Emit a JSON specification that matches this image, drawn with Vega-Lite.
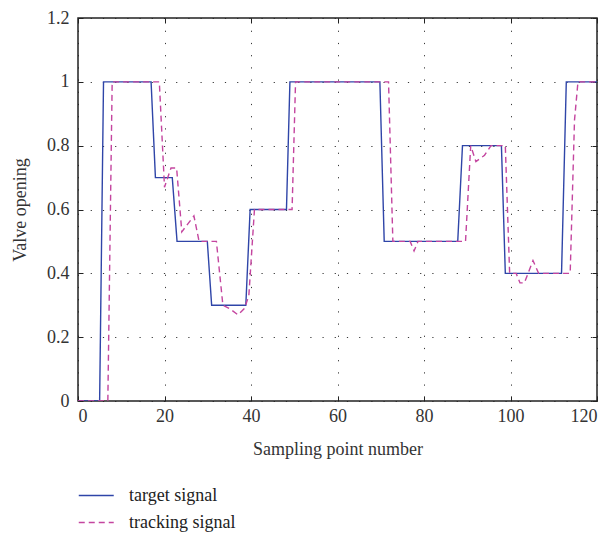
{
  "$schema": "https://vega.github.io/schema/vega-lite/v6.json",
  "width": 519,
  "height": 383,
  "autosize": {"type": "none"},
  "padding": {"left": 78, "top": 18, "right": 16, "bottom": 138},
  "background": "white",
  "config": {
    "font": "Liberation Serif",
    "view": {"stroke": "#222", "strokeWidth": 1.5},
    "axis": {
      "labelFont": "Liberation Serif",
      "titleFont": "Liberation Serif",
      "labelFontSize": 18,
      "titleFontSize": 18,
      "titleFontWeight": "normal",
      "labelColor": "#333",
      "titleColor": "#333",
      "domain": false,
      "tickColor": "#222",
      "tickSize": -5,
      "tickWidth": 1,
      "grid": true,
      "gridColor": "#222",
      "gridDash": [1.2, 11],
      "gridWidth": 1,
      "gridOpacity": 0.9
    },
    "legend": {
      "labelFont": "Liberation Serif",
      "labelFontSize": 18,
      "labelColor": "#222"
    }
  },
  "data": {
    "values": [
      {"series": "target signal", "x": 0, "y": 0},
      {"series": "target signal", "x": 5, "y": 0},
      {"series": "target signal", "x": 5.9, "y": 1},
      {"series": "target signal", "x": 16.9, "y": 1},
      {"series": "target signal", "x": 17.9, "y": 0.7},
      {"series": "target signal", "x": 21.8, "y": 0.7},
      {"series": "target signal", "x": 22.9, "y": 0.5},
      {"series": "target signal", "x": 29.9, "y": 0.5},
      {"series": "target signal", "x": 30.9, "y": 0.3},
      {"series": "target signal", "x": 38.8, "y": 0.3},
      {"series": "target signal", "x": 39.8, "y": 0.6},
      {"series": "target signal", "x": 48.2, "y": 0.6},
      {"series": "target signal", "x": 49, "y": 1},
      {"series": "target signal", "x": 69.8, "y": 1},
      {"series": "target signal", "x": 70.8, "y": 0.5},
      {"series": "target signal", "x": 87.8, "y": 0.5},
      {"series": "target signal", "x": 88.9, "y": 0.8},
      {"series": "target signal", "x": 97.9, "y": 0.8},
      {"series": "target signal", "x": 98.8, "y": 0.4},
      {"series": "target signal", "x": 111.8, "y": 0.4},
      {"series": "target signal", "x": 112.9, "y": 1},
      {"series": "target signal", "x": 120, "y": 1},
      {"series": "tracking signal", "x": 0, "y": 0},
      {"series": "tracking signal", "x": 6.9, "y": 0},
      {"series": "tracking signal", "x": 7.9, "y": 1},
      {"series": "tracking signal", "x": 18.8, "y": 1},
      {"series": "tracking signal", "x": 20, "y": 0.67},
      {"series": "tracking signal", "x": 21.5, "y": 0.73},
      {"series": "tracking signal", "x": 22.8, "y": 0.73},
      {"series": "tracking signal", "x": 24, "y": 0.53},
      {"series": "tracking signal", "x": 26.8, "y": 0.58},
      {"series": "tracking signal", "x": 28, "y": 0.5},
      {"series": "tracking signal", "x": 32, "y": 0.5},
      {"series": "tracking signal", "x": 33.5, "y": 0.3},
      {"series": "tracking signal", "x": 35, "y": 0.29},
      {"series": "tracking signal", "x": 37, "y": 0.27},
      {"series": "tracking signal", "x": 38.5, "y": 0.29},
      {"series": "tracking signal", "x": 39.5, "y": 0.33},
      {"series": "tracking signal", "x": 40.8, "y": 0.6},
      {"series": "tracking signal", "x": 49.5, "y": 0.6},
      {"series": "tracking signal", "x": 50.3, "y": 1},
      {"series": "tracking signal", "x": 71.8, "y": 1},
      {"series": "tracking signal", "x": 72.8, "y": 0.5},
      {"series": "tracking signal", "x": 76.8, "y": 0.5},
      {"series": "tracking signal", "x": 77.7, "y": 0.47},
      {"series": "tracking signal", "x": 78.6, "y": 0.5},
      {"series": "tracking signal", "x": 89.6, "y": 0.5},
      {"series": "tracking signal", "x": 90.8, "y": 0.8},
      {"series": "tracking signal", "x": 92, "y": 0.75},
      {"series": "tracking signal", "x": 94, "y": 0.77},
      {"series": "tracking signal", "x": 95.5, "y": 0.8},
      {"series": "tracking signal", "x": 98.8, "y": 0.8},
      {"series": "tracking signal", "x": 99.8, "y": 0.4},
      {"series": "tracking signal", "x": 101.3, "y": 0.4},
      {"series": "tracking signal", "x": 102.2, "y": 0.37},
      {"series": "tracking signal", "x": 103.2, "y": 0.37},
      {"series": "tracking signal", "x": 105.2, "y": 0.44},
      {"series": "tracking signal", "x": 106.5, "y": 0.4},
      {"series": "tracking signal", "x": 113.8, "y": 0.4},
      {"series": "tracking signal", "x": 114.8, "y": 0.88},
      {"series": "tracking signal", "x": 115.6, "y": 1},
      {"series": "tracking signal", "x": 120, "y": 1}
    ]
  },
  "layer": [
    {
      "mark": {"type": "line", "strokeWidth": 1.4, "clip": true},
      "encoding": {
        "x": {
          "field": "x", "type": "quantitative",
          "scale": {"domain": [0, 120], "nice": false},
          "axis": {"values": [0, 20, 40, 60, 80, 100, 120], "title": "Sampling point number", "labelPadding": 11, "titlePadding": 15}
        },
        "y": {
          "field": "y", "type": "quantitative",
          "scale": {"domain": [0, 1.2], "nice": false},
          "axis": {"values": [0, 0.2, 0.4, 0.6, 0.8, 1, 1.2], "format": "~g", "title": "Valve opening", "labelPadding": 14, "titlePadding": 17}
        },
        "color": {
          "field": "series", "type": "nominal",
          "scale": {"domain": ["target signal", "tracking signal"], "range": ["#2f45a8", "#c4459f"]},
          "legend": {
            "title": null, "orient": "none", "legendX": 0, "legendY": 468,
            "direction": "vertical", "symbolType": "M-1,0H3", "symbolSize": 306,
            "symbolStrokeWidth": 1.4, "labelOffset": 32, "rowPadding": 8
          }
        },
        "strokeDash": {
          "field": "series", "type": "nominal",
          "scale": {"domain": ["target signal", "tracking signal"], "range": [[1, 0], [6, 4]]},
          "legend": {
            "title": null, "orient": "none", "legendX": 0, "legendY": 468,
            "direction": "vertical", "symbolType": "M-1,0H3", "symbolSize": 306,
            "symbolStrokeWidth": 1.4, "labelOffset": 32, "rowPadding": 8
          }
        }
      }
    },
    {
      "mark": {"type": "rule", "opacity": 0},
      "encoding": {
        "x": {
          "field": "x", "type": "quantitative",
          "axis": {"orient": "top", "values": [0, 20, 40, 60, 80, 100, 120], "labels": false, "grid": false, "title": null}
        },
        "y": {
          "field": "y", "type": "quantitative",
          "axis": {"orient": "right", "values": [0, 0.2, 0.4, 0.6, 0.8, 1, 1.2], "labels": false, "grid": false, "title": null}
        }
      }
    }
  ],
  "resolve": {"axis": {"x": "independent", "y": "independent"}}
}
